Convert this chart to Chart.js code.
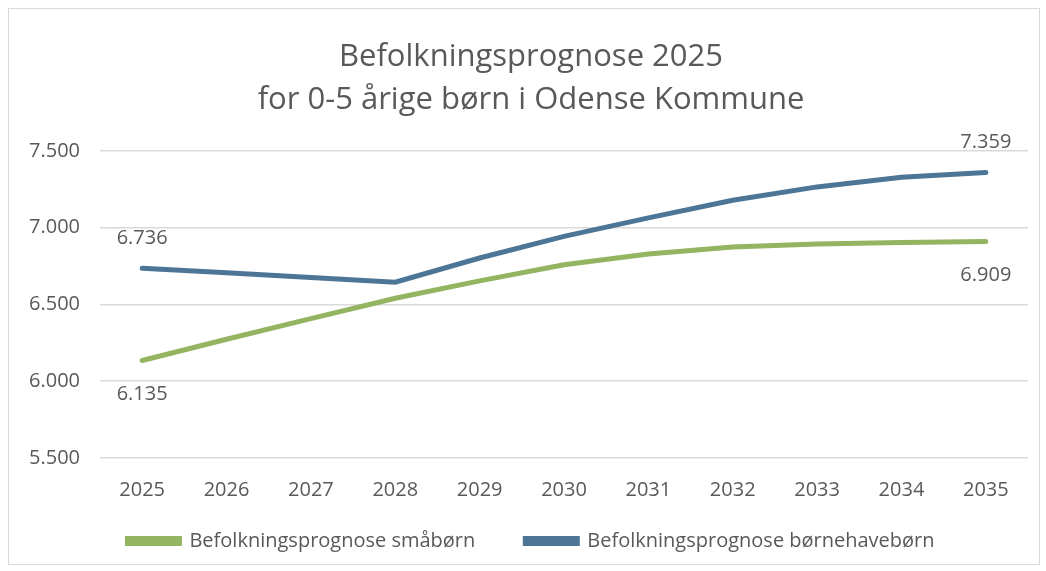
<!DOCTYPE html>
<html>
<head>
<meta charset="utf-8">
<script src="https://cdn.jsdelivr.net/npm/chart.js@4.4.0/dist/chart.umd.min.js"></script>
<style>
  html, body { margin: 0; padding: 0; background: #fff; }
  #wrap { width: 1046px; height: 571px; }
</style>
</head>
<body>
<div id="wrap"><canvas id="prognose_chart" width="1046" height="571"></canvas></div>
<script>
// Befolkningsprognose 2025, 0-5 aarige boern i Odense Kommune
var years = ["2025", "2026", "2027", "2028", "2029", "2030", "2031", "2032", "2033", "2034", "2035"];
var smaaboern = [6135, 6273, 6407, 6540, 6653, 6758, 6828, 6873, 6893, 6903, 6909];
var boernehaveboern = [6736, 6706, 6675, 6645, 6802, 6943, 7063, 7178, 7265, 7328, 7359];
var y_ticks = [5500, 6000, 6500, 7000, 7500];

var green = "#93b460";
var blue = "#4d7596";
var grey = "#595959";

// danish thousand separator
function dk(n) {
  return String(n).replace(/\B(?=(\d{3})+(?!\d))/g, ".");
}

// light frame round the whole chart, like the excel chart box
var frame = {
  id: "frame",
  beforeDraw: function(chart) {
    var ctx = chart.ctx;
    ctx.save();
    ctx.fillStyle = "#fff";
    ctx.fillRect(0, 0, chart.width, chart.height);
    ctx.strokeStyle = "#d9d9d9";
    ctx.lineWidth = 1;
    ctx.strokeRect(8.5, 8.5, 1031, 556);
    ctx.restore();
  }
};

// legend padding gives the wide gap between the two items,
// but we don't want the extra height it adds above them
var LEGEND_CUT = 33;
var legend_fit = {
  id: "legend_fit",
  beforeUpdate: function(chart) {
    var lg = chart.legend;
    if (!lg || lg._cut) return;
    var fit = lg.fit, draw_items = lg._draw;
    lg.fit = function() { fit.call(this); this.height -= LEGEND_CUT; };
    // _draw runs inside the legend's clip, so shift only the items
    lg._draw = function() {
      this.ctx.save();
      this.ctx.translate(0, -LEGEND_CUT);
      draw_items.call(this);
      this.ctx.restore();
    };
    lg._cut = true;
  }
};

// value labels on first and last point, blue above, green below
var end_labels = {
  id: "end_labels",
  afterDatasetsDraw: function(chart) {
    var ctx = chart.ctx;
    ctx.save();
    ctx.font = "20px 'Open Sans'";
    ctx.fillStyle = grey;
    ctx.textAlign = "center";
    ctx.textBaseline = "middle";
    chart.data.datasets.forEach(function(ds, d) {
      var meta = chart.getDatasetMeta(d);
      var last = ds.data.length - 1;
      [0, last].forEach(function(i) {
        var pt = meta.data[i];
        var dy = d == 0 ? 34 : -30;
        ctx.fillText(dk(ds.data[i]), pt.x, pt.y + dy);
      });
    });
    ctx.restore();
  }
};

new Chart(document.getElementById("prognose_chart"), {
  type: "line",
  data: {
    labels: years,
    datasets: [{
        data: smaaboern,
        label: "Befolkningsprognose småbørn",
        borderColor: green,
        backgroundColor: green,
        borderWidth: 5,
        borderCapStyle: "round",
        pointRadius: 0,
        fill: false
      }, {
        data: boernehaveboern,
        label: "Befolkningsprognose børnehavebørn",
        borderColor: blue,
        backgroundColor: blue,
        borderWidth: 5,
        borderCapStyle: "round",
        pointRadius: 0,
        fill: false
      }
    ]
  },
  plugins: [frame, legend_fit, end_labels],
  options: {
    responsive: false,
    animation: false,
    layout: { padding: { left: 18, right: 2, top: 0, bottom: 10 } },
    plugins: {
      title: {
        display: true,
        text: ["Befolkningsprognose 2025", "for 0-5 årige børn i Odense Kommune"],
        color: grey,
        font: { family: "'Open Sans'", size: 31, weight: "normal", lineHeight: 1.4 },
        padding: { top: 35, bottom: 29 }
      },
      legend: {
        position: "bottom",
        labels: {
          color: grey,
          font: { family: "'Open Sans'", size: 20 },
          boxWidth: 52,
          boxHeight: 5,
          padding: 50
        }
      },
      tooltip: { enabled: false }
    },
    scales: {
      x: {
        offset: true,
        grid: { display: false },
        border: { display: false },
        ticks: { color: grey, font: { family: "'Open Sans'", size: 20 }, padding: 12 }
      },
      y: {
        min: 5500,
        max: 7500,
        afterFit: function(scale) { scale.width = 82; },
        afterBuildTicks: function(scale) {
          scale.ticks = y_ticks.map(function(v) { return { value: v }; });
        },
        grid: { color: "#d9d9d9", lineWidth: 1.5, drawTicks: false },
        border: { display: false },
        ticks: {
          color: grey,
          font: { family: "'Open Sans'", size: 20 },
          padding: 20,
          callback: function(v) { return dk(v); }
        }
      },
      // empty spacer on the right so the plot ends where the reference does
      spacer: {
        type: "linear",
        position: "right",
        min: 0,
        max: 1,
        afterFit: function(scale) { scale.width = 16; },
        grid: { display: false },
        border: { display: false },
        ticks: { display: false }
      }
    }
  }
});
</script>
</body>
</html>
